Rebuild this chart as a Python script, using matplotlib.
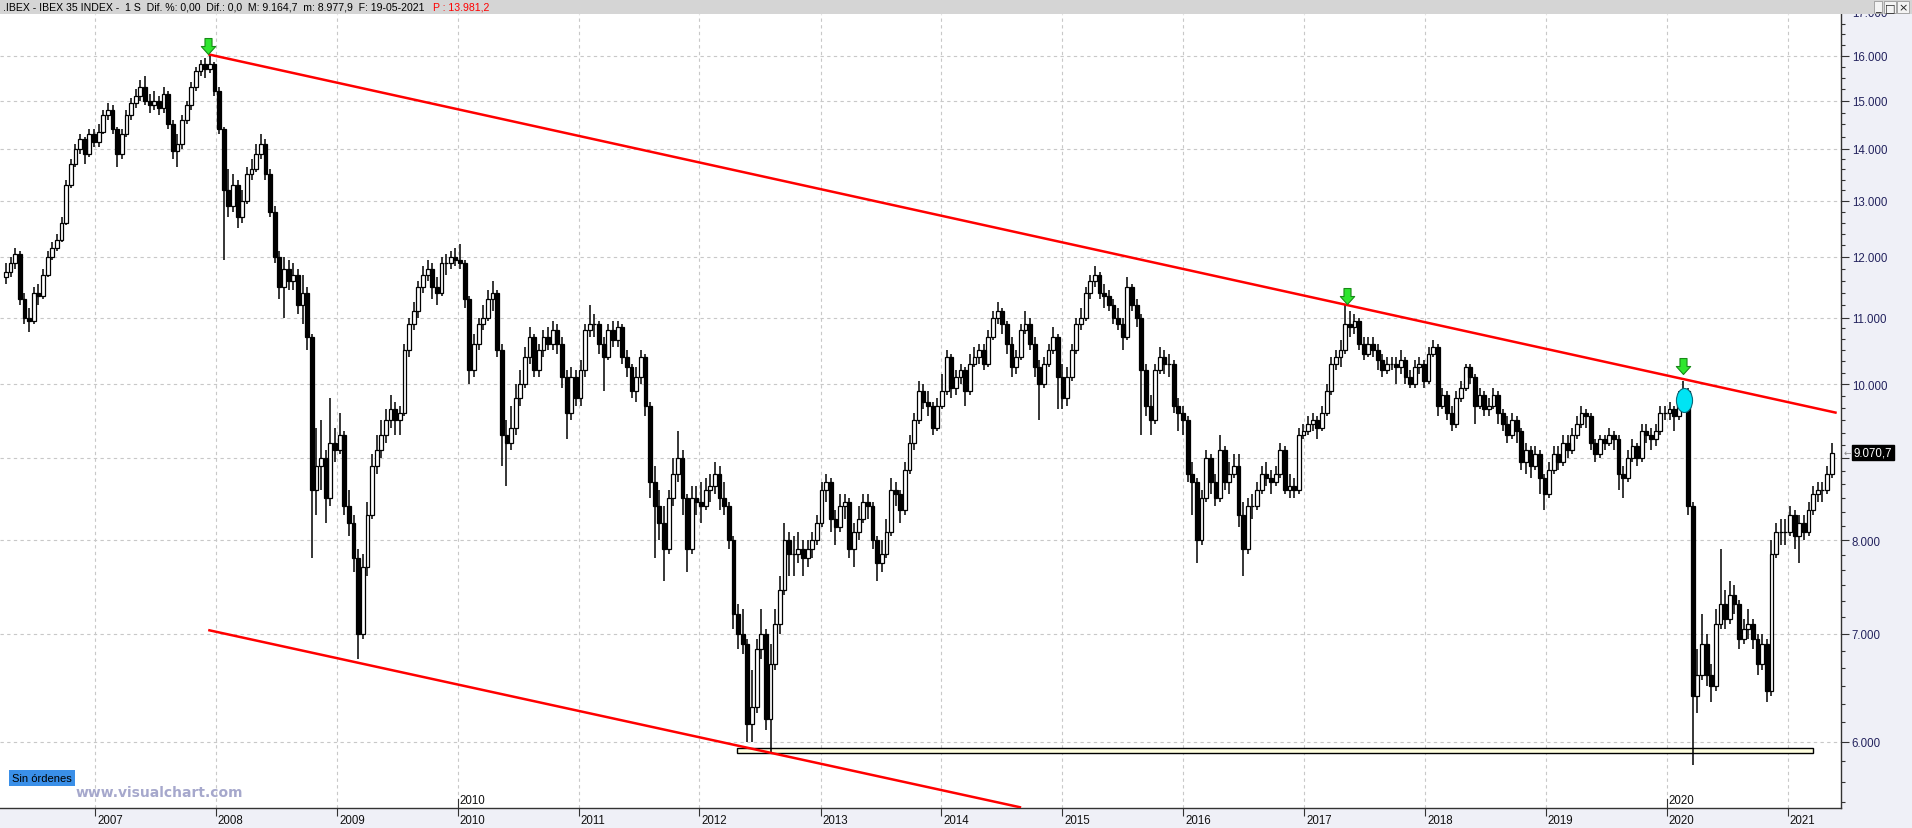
import numpy as np
import pandas as pd
import matplotlib
matplotlib.use('Agg')
import matplotlib.pyplot as plt
import matplotlib.dates as mdates
import matplotlib.transforms as mtransforms
from matplotlib.path import Path
from matplotlib.patches import Rectangle
from matplotlib.ticker import FuncFormatter, NullFormatter

plt.rcParams['font.family'] = ['Liberation Sans', 'DejaVu Sans']

# IBEX 35, candles every two weeks
first_date = '2006-04-07'
first_open = 11650

closes = [
    # 2006
    11750, 11900, 12050, 11300, 11000, 10950, 11400, 11350, 11700, 12000,
    12150, 12300, 12600, 13300, 13700, 14000, 14200, 13900, 14300, 14150,
    # 2007
    14350, 14700, 14800, 14400, 13900, 14300, 14700, 14950, 15100, 15300,
    15000, 14900, 15000, 14850, 15150, 14500, 13950, 14100, 14600, 14900,
    15300, 15650, 15800, 15700, 15800, 15200,
    # 2008
    14400, 13200, 12900, 13300, 12700, 13000, 13500, 13600, 13900, 14100,
    13500, 12800, 12000, 11500, 11800, 11600, 11700, 11200, 11400, 10700,
    8600, 8900, 9000, 8500, 9200, 9100,
    # 2009
    9300, 8400, 8200, 7800, 7000, 7700, 8300, 8900, 9100, 9300,
    9500, 9650, 9500, 9600, 10500, 10900, 11100, 11500, 11700, 11800,
    11500, 11400, 11900, 11900, 12000, 11950,
    # 2010
    11900, 11300, 10200, 10600, 10900, 11000, 11300, 11400, 10500, 9300,
    9200, 9400, 9800, 10000, 10400, 10700, 10200, 10500, 10700, 10600,
    10800, 10600, 10100, 9600, 10100, 9800,
    # 2011
    10200, 10800, 10900, 10900, 10600, 10400, 10800, 10650, 10850, 10400,
    10250, 9900, 10100, 10400, 9700, 8700, 8400, 8200, 7900, 8500,
    8800, 9000, 8500, 7900, 8500, 8450,
    # 2012
    8400, 8600, 8650, 8800, 8500, 8400, 8000, 7200, 7000, 6900,
    6150, 6300, 6850, 7000, 6200, 6700, 7100, 7450, 8000, 7850,
    7850, 7900, 7800, 7900, 8000, 8200,
    # 2013
    8600, 8700, 8250, 8150, 8400, 8450, 7900, 8100, 8250, 8450,
    8400, 8000, 7750, 7850, 8100, 8600, 8550, 8350, 8850, 9200,
    9500, 9900, 9750, 9700, 9400, 9700,
    # 2014
    9900, 10400, 9950, 10100, 10200, 9900, 10300, 10400, 10500, 10300,
    10700, 11000, 11100, 10900, 10600, 10250, 10400, 10800, 10900, 10600,
    10250, 10000, 10300, 10500, 10700, 10100,
    # 2015
    9800, 10100, 10500, 10900, 11000, 11400, 11600, 11700, 11400, 11350,
    11200, 11000, 10900, 10700, 11500, 11200, 11000, 10200, 9700, 9500,
    10200, 10400, 10300, 10300, 9700, 9600,
    # 2016
    9500, 8800, 8700, 8000, 8500, 9000, 8700, 8500, 9100, 8700,
    8800, 8900, 8300, 7900, 8400, 8400, 8600, 8800, 8750, 8700,
    8800, 9100, 8600, 8650, 8600, 9300,
    # 2017
    9350, 9450, 9500, 9400, 9600, 9900, 10300, 10400, 10500, 10900,
    10850, 10950, 10600, 10450, 10600, 10500, 10350, 10200, 10300, 10300,
    10250, 10350, 10100, 10000, 10250, 10300,
    # 2018
    10050, 10450, 10550, 9700, 9850, 9600, 9450, 9800, 9950, 10250,
    10100, 9700, 9850, 9650, 9700, 9850, 9600, 9450, 9300, 9500,
    9350, 8950, 9100, 8900, 9050, 8750,
    # 2019
    8550, 8850, 9050, 8950, 9200, 9100, 9300, 9450, 9600, 9550,
    9200, 9050, 9250, 9200, 9300, 9250, 8800, 8750, 9000, 9150,
    9000, 9350, 9300, 9250, 9350, 9600,
    # 2020
    9600, 9650, 9550, 9800, 9900, 8400, 6400, 6600, 6900, 6600,
    6500, 7100, 7300, 7150, 7400, 7300, 6950, 7050, 7100, 6950,
    6700, 6900, 6450, 7850, 8100, 8100,
    # 2021
    8100, 8300, 8050, 8200, 8100, 8350, 8550, 8600, 8600, 8800, 9070.7,
]

highs = [
    11900, 12000, 12150, 12100, 11400, 11150, 11500, 11550, 11800, 12100,
    12250, 12400, 12700, 13400, 13800, 14100, 14300, 14250, 14400, 14400,
    14500, 14800, 14950, 14900, 14450, 14400, 14800, 15050, 15250, 15450,
    15550, 15150, 15200, 15100, 15300, 15200, 14600, 14300, 14700, 15000,
    15400, 15750, 15900, 15950, 16040, 15850,
    15300, 14450, 13600, 13500, 13400, 13200, 13650, 13800, 14100, 14300,
    14200, 13600, 12900, 12100, 12000, 11950, 11900, 11800, 11700, 11500,
    10750, 9400, 9500, 9100, 9800, 9400,
    9600, 9350, 8600, 8300, 7900, 7850, 8450, 9050, 9300, 9500,
    9650, 9850, 9750, 9700, 10600, 11000, 11250, 11600, 11850, 11950,
    11900, 11650, 12000, 12050, 12100, 12150,
    12220, 11950, 11350, 10750, 11000, 11200, 11450, 11600, 11450, 10600,
    9500, 9700, 10000, 10200, 10550, 10850, 10750, 10600, 10800, 10850,
    10950, 10900, 10700, 10200, 10250, 10200,
    10350, 10900, 11200, 11050, 10950, 10700, 10900, 10950, 10950, 10900,
    10500, 10300, 10250, 10500, 10450, 9750, 8900, 8600, 8400, 8600,
    9000, 9350, 9100, 8550, 8650, 8650,
    8700, 8750, 8800, 8950, 8900, 8700, 8450, 8050, 7300, 7250,
    6950, 6650, 6950, 7250, 7050, 6900, 7250, 7600, 8200, 8100,
    8050, 8100, 8000, 8000, 8100, 8300,
    8700, 8800, 8750, 8350, 8550, 8550, 8500, 8200, 8400, 8550,
    8550, 8450, 8050, 8000, 8250, 8750, 8700, 8600, 8950, 9300,
    9600, 10050, 10000, 9900, 9750, 9800,
    10150, 10500, 10450, 10200, 10300, 10250, 10450, 10550, 10600, 10600,
    10800, 11100, 11250, 11150, 10950, 10700, 10500, 10900, 11100, 11000,
    10700, 10350, 10400, 10600, 10850, 10750,
    10300, 10250, 10600, 11000, 11150, 11500, 11700, 11850, 11750, 11550,
    11450, 11300, 11150, 11000, 11650, 11550, 11300, 11050, 10300, 9850,
    10300, 10550, 10500, 10450, 10350, 9800,
    9700, 9550, 8950, 8750, 8600, 9100, 9050, 8800, 9300, 9150,
    8950, 9050, 9050, 8450, 8500, 8550, 8700, 8900, 8950, 8850,
    8900, 9200, 9150, 8800, 8750, 9400,
    9450, 9550, 9600, 9550, 9700, 10000, 10400, 10500, 10650, 11200,
    11100, 11050, 11000, 10700, 10700, 10700, 10600, 10450, 10400, 10400,
    10400, 10500, 10400, 10200, 10350, 10400,
    10350, 10550, 10650, 10600, 9950, 9900, 9700, 9900, 10050, 10300,
    10300, 10150, 9950, 9900, 9800, 9950, 9900, 9650, 9550, 9600,
    9550, 9400, 9200, 9150, 9150, 9100,
    8800, 8950, 9150, 9150, 9300, 9300, 9400, 9550, 9700, 9650,
    9600, 9250, 9300, 9300, 9400, 9350, 9300, 8900, 9100, 9250,
    9200, 9450, 9450, 9400, 9450, 9700,
    9700, 9750, 9700, 9900, 10050, 9950, 8450, 6850, 7200, 7000,
    6700, 7250, 7900, 7450, 7550, 7500, 7350, 7150, 7250, 7150,
    7000, 7000, 6950, 8000, 8200, 8250,
    8250, 8400, 8350, 8300, 8300, 8450, 8650, 8700, 8700, 8900, 9200,
]

lows = [
    11550, 11650, 11800, 11200, 10900, 10780, 10900, 11200, 11300, 11650,
    11950, 12100, 12250, 12550, 13250, 13650, 13900, 13700, 13850, 14050,
    14050, 14300, 14600, 14300, 13650, 13800, 14250, 14600, 14850, 15000,
    14900, 14750, 14800, 14700, 14750, 14400, 13800, 13650, 14000, 14500,
    14800, 15200, 15550, 15500, 15600, 15100,
    14300, 11950, 12700, 12800, 12500, 12600, 12950, 13400, 13550, 13800,
    13400, 12700, 11900, 11300, 11000, 11450, 11450, 11050, 10900, 10500,
    7800, 8300, 8600, 8200, 8400, 8950,
    9050, 8300, 8050, 7650, 6750, 6950, 7600, 8250, 8800, 9000,
    9200, 9400, 9300, 9300, 9550, 10400, 10800, 11000, 11400, 11600,
    11300, 11200, 11350, 11700, 11800, 11850,
    11800, 11150, 10000, 10100, 10500, 10800, 10950, 11100, 10400, 8900,
    8650, 9100, 9300, 9700, 9950, 10300, 10100, 10100, 10400, 10500,
    10500, 10450, 9950, 9250, 9500, 9700,
    9700, 10100, 10700, 10700, 10450, 9900, 10350, 10550, 10550, 10300,
    10100, 9800, 9750, 10000, 9550, 8500, 7800, 8000, 7550, 7850,
    8400, 8700, 8300, 7650, 7850, 8300,
    8200, 8350, 8450, 8550, 8350, 8300, 7900, 7050, 6850, 6800,
    6000, 6000, 6250, 6750, 6100, 5900, 6650, 7000, 7400, 7600,
    7600, 7750, 7600, 7700, 7800, 7950,
    8150, 8450, 8100, 7950, 8100, 8250, 7800, 7700, 8000, 8200,
    8250, 7900, 7550, 7650, 7800, 8050, 8400, 8200, 8300, 8800,
    9100, 9450, 9650, 9550, 9300, 9350,
    9650, 9850, 9800, 9850, 10000, 9700, 9850, 10250, 10300, 10200,
    10250, 10650, 10900, 10750, 10450, 10100, 10150, 10350, 10750, 10500,
    10100, 9500, 9950, 10250, 10450, 9650,
    9650, 9700, 10050, 10450, 10800, 10950, 11300, 11500, 11300, 11150,
    11100, 10900, 10800, 10500, 10650, 11100, 10850, 9300, 9550, 9300,
    9450, 10150, 10150, 10100, 9600, 9350,
    9300, 8700, 8300, 7750, 7950, 8450, 8550, 8400, 8450, 8600,
    8550, 8750, 8150, 7600, 7850, 8250, 8350, 8550, 8650, 8550,
    8650, 8750, 8550, 8500, 8500, 8550,
    9250, 9300, 9350, 9250, 9350, 9550, 9850, 10200, 10250, 10450,
    10700, 10750, 10500, 10350, 10400, 10400, 10200, 10100, 10150, 10200,
    10000, 10150, 10000, 9950, 9950, 10150,
    9950, 10000, 10400, 9550, 9650, 9500, 9350, 9400, 9750, 9900,
    10000, 9450, 9650, 9550, 9550, 9650, 9450, 9350, 9200, 9250,
    9200, 8850, 8800, 8750, 8850, 8550,
    8350, 8500, 8800, 8850, 8900, 9000, 9050, 9250, 9400, 9400,
    9100, 8950, 9000, 9100, 9150, 9100, 8600, 8500, 8700, 8950,
    8900, 8950, 9200, 9100, 9150, 9300,
    9500, 9500, 9350, 9500, 9750, 8300, 5800, 6250, 6550, 6500,
    6350, 6450, 7050, 7050, 7100, 7200, 6850, 6900, 6950, 6850,
    6600, 6650, 6350, 6400, 7800, 7950,
    7950, 8050, 7900, 7750, 8000, 8050, 8300, 8450, 8450, 8550, 8750,
]

# drawings on the chart
upper_line_dates = ['2007-12-09', '2021-05-29']
upper_line_values = [16030, 9600]
lower_line_dates = ['2007-12-09', '2014-08-30']
lower_line_values = [7037, 5460]
support_box_dates = ['2012-04-25', '2021-03-18']
support_box_values = [5905, 5946]
signal_dates = ['2007-12-09', '2017-05-12', '2020-02-19']
signal_values = [16030, 11220, 10150]
circle_dates = ['2020-02-24']
circle_values = [9780]

years = list(range(2007, 2022))
decade_years = [2010, 2020]
price_levels = list(range(6000, 17000, 1000))

title_text = '.IBEX - IBEX 35 INDEX -  1 S  Dif. %: 0,00  Dif.: 0,0  M: 9.164,7  m: 8.977,9  F: 19-05-2021'
title_red = 'P : 13.981,2'

W, H = 1912, 829
fig = plt.figure(figsize=(W / 100, H / 100), dpi=100, facecolor='#eff0f7')
ax = fig.add_axes([0, 1 - 809 / H, 1841 / W, 794 / H])
ax.set_facecolor('white')
ax.set_yscale('log')

dates = pd.date_range(first_date, periods=len(closes), freq='14D')
x = mdates.date2num(dates)
c = np.array(closes, dtype=float)
o = np.array([first_open] + closes[:-1], dtype=float)
h = np.array(highs, dtype=float)
l = np.array(lows, dtype=float)
up = c >= o
lo = np.minimum(o, c)
hi = np.maximum(o, c)

# candles
ax.vlines(x, l, h, color='black', lw=1.1, zorder=2)
ax.bar(x[up], hi[up] - lo[up], bottom=lo[up], width=11.5, color='white',
       edgecolor='black', linewidth=0.9, zorder=3)
ax.bar(x[~up], hi[~up] - lo[~up], bottom=lo[~up], width=11.5, color='black',
       edgecolor='black', linewidth=0.9, zorder=3)

# grid
year_x = [mdates.date2num(pd.Timestamp(f'{y}-01-01')) for y in years]
for v in price_levels:
    ax.axhline(v, color='#c8c8c8', lw=0.8, ls=(0, (3, 3)), zorder=0.5)
for xv in year_x:
    ax.axvline(xv, color='#c8c8c8', lw=0.8, ls=(0, (3, 3)), zorder=0.5)

# support box
bx = mdates.date2num(pd.to_datetime(support_box_dates))
ax.add_patch(Rectangle((bx[0], support_box_values[0]), bx[1] - bx[0],
                       support_box_values[1] - support_box_values[0],
                       facecolor='#ffffe0', edgecolor='black', lw=1.0, zorder=1))

# trend lines
ax.plot(mdates.date2num(pd.to_datetime(upper_line_dates)), upper_line_values,
        color='#ff0000', lw=1.8, zorder=4, solid_capstyle='butt')
ax.plot(mdates.date2num(pd.to_datetime(lower_line_dates)), lower_line_values,
        color='#ff0000', lw=1.8, zorder=4, solid_capstyle='butt')

# markers
arrow = Path([(-0.22, 1.0), (0.22, 1.0), (0.22, 0.5), (0.45, 0.5), (0.0, 0.0),
              (-0.45, 0.5), (-0.22, 0.5), (-0.22, 1.0)],
             [Path.MOVETO] + [Path.LINETO] * 6 + [Path.CLOSEPOLY])
ellipse = mtransforms.Affine2D().scale(0.67, 1.0).transform_path(Path.unit_circle())
ax.plot(mdates.date2num(pd.to_datetime(circle_dates)), circle_values, ls='none',
        marker=ellipse, markersize=17.3, mfc='#00e4f4', mec='#0a6878', mew=0.8, zorder=5)
ax.plot(mdates.date2num(pd.to_datetime(signal_dates)), signal_values, ls='none',
        marker=arrow, markersize=23, mfc='#2ee62e', mec='#178a17', mew=0.8, zorder=6)

# axes styling
for s in ['left', 'top']:
    ax.spines[s].set_visible(False)
for s in ['right', 'bottom']:
    ax.spines[s].set_color('#333333')
    ax.spines[s].set_linewidth(1.0)

last = closes[-1]


def price_label(v, pos):
    # the level sitting under the last-price tag is hidden in the chart
    if abs(np.log(v / last)) < 0.02:
        return ''
    return f'{int(v):,}'.replace(',', '.')


minor = []
for base in range(5000, 17000, 1000):
    n = 6 if base < 11000 else (5 if base < 14000 else 4)
    minor += [base + i * 1000 / n for i in range(1, n)]
ax.yaxis.tick_right()
ax.set_yticks(price_levels)
ax.set_yticks(minor, minor=True)
ax.yaxis.set_major_formatter(FuncFormatter(price_label))
ax.yaxis.set_minor_formatter(NullFormatter())
ax.tick_params(axis='y', which='major', length=5.8, width=0.8, color='#333333',
               pad=2, labelsize=8.3, labelcolor='#23235e')
ax.tick_params(axis='y', which='minor', length=2.9, width=0.8, color='#333333')

ax.set_xticks(year_x)
ax.tick_params(axis='x', which='major', length=5.8, width=0.8, color='#333333',
               labelbottom=False)
ax.tick_params(axis='x', which='minor', length=0)

# limits set after all lines so nothing re-autoscales
ax.set_xlim(mdates.date2num(pd.Timestamp('2006-03-20')), mdates.date2num(pd.Timestamp('2021-06-11')))
ax.set_ylim(5456, 16981)

trans = mtransforms.blended_transform_factory(ax.transData, ax.transAxes)
for yv, xv in zip(years, year_x):
    ax.annotate(str(yv), xy=(xv, 0), xycoords=trans, xytext=(2, -12.5),
                textcoords='offset pixels', ha='left', va='center', fontsize=8.3,
                color='#111111', annotation_clip=False)
for yv in decade_years:
    xv = mdates.date2num(pd.Timestamp(f'{yv}-01-01'))
    ax.plot([xv, xv], [0, 9 / 794], transform=trans, color='#333333', lw=0.8, clip_on=False)
    ax.annotate(str(yv), xy=(xv, 0), xycoords=trans, xytext=(2, 8),
                textcoords='offset pixels', ha='left', va='center', fontsize=8.3,
                color='#111111', annotation_clip=False)

# partially hidden top label
ax.annotate('17.000', xy=(1, 17000), xycoords=('axes fraction', 'data'), xytext=(11, 0),
            textcoords='offset pixels', ha='left', va='center', fontsize=8.3,
            color='#23235e', annotation_clip=False)

# last price tag
last_txt = f'{last:,.1f}'.replace(',', 'X').replace('.', ',').replace('X', '.')
ax.annotate(last_txt, xy=(1, last), xycoords=('axes fraction', 'data'), xytext=(13, 0),
            textcoords='offset pixels', ha='left', va='center', fontsize=8.3, color='white',
            bbox=dict(boxstyle='square,pad=0.15', fc='black', ec='black'),
            zorder=10, annotation_clip=False)
ax.annotate('\u2190', xy=(1, last), xycoords=('axes fraction', 'data'), xytext=(3, 0),
            textcoords='offset pixels', ha='left', va='center', fontsize=6.5,
            color='#888888', family='DejaVu Sans', zorder=10, annotation_clip=False)

# header bar
fig.add_artist(Rectangle((0, 1 - 15 / H), 1, 15 / H, transform=fig.transFigure,
                         facecolor='#d5d5d5', edgecolor='none', zorder=5))
fig.text(3 / W, 1 - 7.5 / H, title_text, fontsize=7.6, color='black', ha='left', va='center', zorder=6)
fig.text(433 / W, 1 - 7.5 / H, title_red, fontsize=7.6, color='#ff0000', ha='left', va='center', zorder=6)
for bx_, glyph in zip([1878, 1890, 1903], ['_', '\u25a1', '\u00d7']):
    fig.text(bx_ / W, 1 - 8 / H, glyph, fontsize=8, ha='center', va='center', color='#222222',
             family='DejaVu Sans', zorder=6,
             bbox=dict(boxstyle='square,pad=0.1', fc='#f4f4f4', ec='#9a9a9a', lw=0.6))

# overlays
fig.text(12 / W, 1 - 778.7 / H, 'Sin órdenes', fontsize=8, color='black', ha='left', va='center',
         bbox=dict(boxstyle='square,pad=0.28', fc='#3a8fe8', ec='none'))
fig.text(76 / W, 1 - 793 / H, 'www.visualchart.com', fontsize=10, fontweight='bold',
         color='#a6a8cc', family='DejaVu Sans', ha='left', va='center')

fig.savefig('out.png', dpi=100, facecolor=fig.get_facecolor())
